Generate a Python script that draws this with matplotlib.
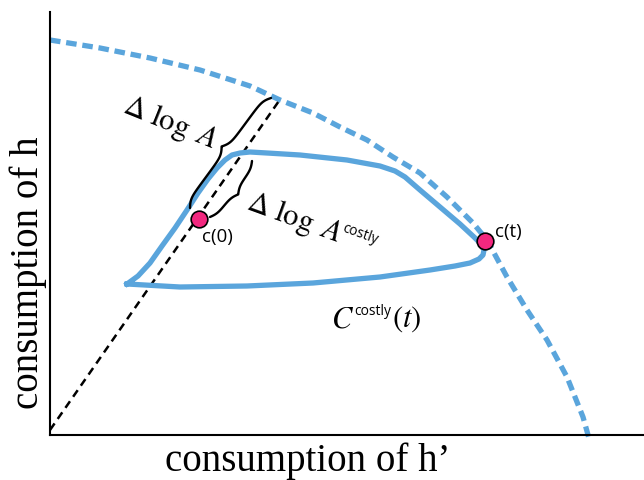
import numpy as np
import matplotlib
matplotlib.use('Agg')
import matplotlib.pyplot as plt
from matplotlib.font_manager import FontProperties

plt.rcParams['mathtext.fontset'] = 'custom'
plt.rcParams['mathtext.rm'] = 'STIXGeneral'
plt.rcParams['mathtext.it'] = 'STIXGeneral:italic'

# everything is in pixel-like units of the drawing (y grows downwards)
frontier_x = [50, 100, 150, 200, 250, 280, 313, 340, 367, 393, 420, 447, 473, 487, 507, 527, 547, 567, 583, 590]
frontier_y = [40, 48, 58, 70, 86, 100, 113, 127, 140, 157, 173, 197, 223, 240, 277, 310, 340, 377, 417, 442]

loop_x = [127, 138, 150, 162, 175, 187, 198, 208, 217, 225, 232, 240, 250, 267, 300, 347, 380, 395, 405,
          420, 440, 460, 474, 481, 484, 483, 479, 470, 455, 430, 380, 313, 247, 180, 127]
loop_y = [284, 276, 263, 246, 228, 210, 193, 179, 168, 160, 155, 153, 152, 153, 155, 160, 166, 171, 177,
          190, 207, 224, 237, 244, 250, 255, 259, 263, 266, 270, 277, 283, 286, 287, 284]

ray_x = [50, 281]
ray_y = [430, 98]

pts_x = [199, 485]
pts_y = [219, 241]
pts_labels = ['c(0)', 'c(t)']

blue = '#5aa5dc'
pink = '#f2287f'


def brace(ax, p0, p1, w, side=1, beta=0.25):
    p0, p1 = np.array(p0, float), np.array(p1, float)
    d = p1 - p0
    L = np.hypot(*d)
    u = d / L
    n = np.array([-u[1], u[0]]) * side
    s = np.linspace(0, L / 2, 60)
    h = 1 / (1 + np.exp(-beta * (s - s[0]))) + 1 / (1 + np.exp(-beta * (s - s[-1])))
    s = np.concatenate((s, L - s[-2::-1]))
    h = np.concatenate((h, h[-2::-1]))
    h = (h - h[0]) / (h.max() - h[0]) * w
    xy = p0[None, :] + s[:, None] * u[None, :] + h[:, None] * n[None, :]
    ax.plot(xy[:, 0], xy[:, 1], color='black', lw=1.7, solid_capstyle='round')


def width_px(fig, s, size, family=None, math=False):
    r = fig.canvas.get_renderer()
    prop = FontProperties(size=size, family=family)
    w, h, d = r.get_text_width_height_descent(s, prop, ismath=math)
    return w


def sup_label(ax, x, y, main, sup, after='', angle=0, size=22, sup_size=10, rise=12):
    # x, y: left end of the baseline, data units == pixels, y downwards
    fig = ax.figure
    a = np.deg2rad(angle)
    along = np.array([np.cos(a), -np.sin(a)])
    up = np.array([-np.sin(a), -np.cos(a)])
    kw = dict(rotation=angle, rotation_mode='anchor', ha='left', va='baseline')
    p = np.array([x, y], float)
    ax.text(p[0], p[1], main, fontsize=size, **kw)
    p = p + along * width_px(fig, main, size, math=True)
    q = p + up * rise
    ax.text(q[0], q[1], sup, fontsize=sup_size, family='Open Sans', **kw)
    p = p + along * (width_px(fig, sup, sup_size, family='Open Sans') + 1)
    if after:
        ax.text(p[0], p[1], after, fontsize=size, **kw)


fig = plt.figure(figsize=(6.44, 4.80), dpi=100)
ax = fig.add_axes([50 / 644, 45 / 480, 594 / 644, 423 / 480])
ax.set_xlim(50, 644)
ax.set_ylim(435, 12)
ax.set_xticks([])
ax.set_yticks([])
ax.spines['top'].set_visible(False)
ax.spines['right'].set_visible(False)
ax.spines['left'].set_linewidth(1.5)
ax.spines['bottom'].set_linewidth(1.5)

ax.plot(frontier_x, frontier_y, color=blue, lw=3.8, dashes=(2.0, 1.1), clip_on=False)
ax.plot(ray_x, ray_y, color='black', lw=1.8, dashes=(3.2, 2.2))
ax.plot(loop_x, loop_y, color=blue, lw=3.8, solid_joinstyle='round')

brace(ax, (190, 208), (271, 98), 11, side=-1)
brace(ax, (210, 217), (252, 161), 9, side=1)

ax.plot(pts_x, pts_y, 'o', ms=12, mfc=pink, mec='black', mew=1.2, zorder=5)
ax.text(pts_x[0] + 3, pts_y[0] + 18, pts_labels[0], fontsize=13.5, family='Open Sans', ha='left', va='center')
ax.text(pts_x[1] + 10, pts_y[1] - 9, pts_labels[1], fontsize=13.5, family='Open Sans', ha='left', va='center')

ax.text(170, 124, r'$\Delta\ \log\ A$', fontsize=22, rotation=-22, ha='center', va='center')
sup_label(ax, 245, 209, r'$\Delta\ \log\ A$', 'costly', angle=-20)
sup_label(ax, 331, 327, r'$C$', 'costly', r'$(t)$')

ax.text(308, 461, "consumption of h’", fontsize=28, family='Liberation Serif', ha='center', va='center', clip_on=False)
ax.text(28, 273, 'consumption of h', fontsize=28, family='Liberation Serif', rotation=90,
        ha='center', va='center', clip_on=False)

fig.savefig('out.png', dpi=100)
